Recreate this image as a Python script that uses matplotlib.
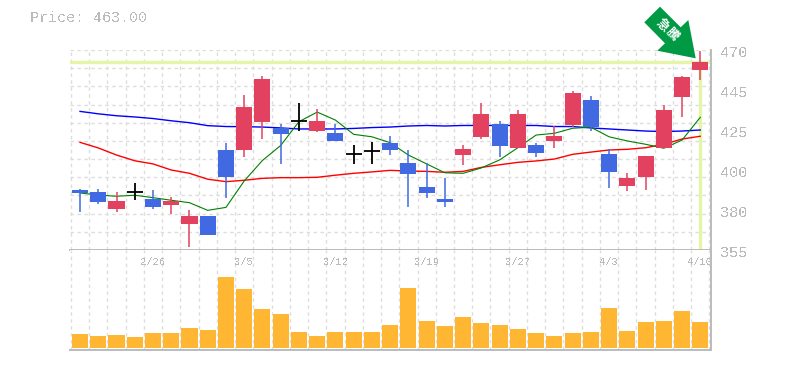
#!/usr/bin/env python
# candlestick chart with moving averages and volume panel

import matplotlib.pyplot as plt
import numpy as np
from matplotlib.patches import Polygon

opens = [389.5, 388.4, 378.6, 388.2, 384.3, 380.9, 369.9, 374.5, 412.5, 412.5, 428.6, 425.2,
         429.0, 423.4, 422.3, 410.0, 411.9, 416.5, 405.0, 391.2, 384.3, 409.6, 420.0, 427.5,
         413.7, 415.4, 417.7, 426.9, 441.3, 410.2, 391.8, 397.0, 413.7, 443.0, 458.5]
highs = [390.1, 390.1, 388.4, 393.5, 389.5, 385.5, 378.0, 374.5, 416.5, 444.1, 455.0, 427.5,
         439.5, 436.1, 427.5, 415.4, 417.1, 420.6, 412.5, 405.0, 396.4, 415.4, 439.5, 429.2,
         435.5, 416.5, 426.3, 446.4, 443.6, 413.1, 399.3, 409.0, 438.4, 455.0, 469.4]
lows = [376.9, 381.5, 376.9, 383.8, 378.6, 375.7, 356.7, 363.6, 384.9, 408.5, 418.8, 404.5,
        423.4, 422.9, 417.7, 404.5, 404.5, 409.6, 379.7, 384.9, 379.7, 403.9, 418.8, 408.5,
        413.7, 408.5, 413.7, 425.7, 423.4, 390.7, 388.9, 389.5, 413.7, 431.5, 452.8]
closes = [387.8, 382.6, 383.2, 388.2, 379.7, 383.2, 374.5, 363.6, 397.0, 437.2, 453.3, 421.7,
          429.0, 429.2, 417.7, 410.0, 411.9, 412.5, 398.7, 387.8, 382.6, 413.1, 433.2, 414.8,
          433.2, 410.8, 420.6, 445.3, 425.7, 399.9, 396.4, 409.0, 435.5, 454.5, 463.0]

ma_short = [387.8, 386.6, 385.9, 386.5, 385.1, 383.6, 382.2, 377.8, 379.5, 394.7, 406.5, 415.1,
            428.8, 434.3, 429.7, 421.5, 420.1, 416.7, 409.6, 404.5, 399.4, 399.1, 402.2, 406.8,
            413.8, 421.1, 422.1, 425.0, 425.6, 420.1, 417.7, 415.8, 413.5, 418.2, 431.3]
ma_mid = [416.9, 413.7, 409.6, 406.3, 404.5, 401.0, 399.1, 395.7, 394.3, 395.1, 396.2, 396.6,
          396.6, 396.8, 398.0, 399.1, 399.9, 400.8, 400.4, 400.2, 399.7, 400.2, 402.5, 404.0,
          405.4, 406.2, 407.3, 410.0, 411.3, 412.5, 412.9, 413.8, 415.8, 418.8, 420.4]
ma_long = [434.7, 433.3, 432.2, 431.5, 430.6, 429.3, 428.2, 426.5, 426.0, 425.9, 425.7, 425.2,
           424.6, 424.6, 424.6, 424.9, 425.4, 425.7, 426.3, 426.6, 426.3, 426.6, 426.6, 426.6,
           426.6, 426.6, 426.0, 426.0, 425.2, 424.6, 424.0, 423.4, 423.1, 423.4, 424.0]

volumes = [14, 12, 13, 11, 15, 15, 20, 18, 71, 59, 39, 34, 16, 12, 16, 16, 16, 23,
           60, 27, 22, 31, 25, 23, 19, 15, 12, 15, 16, 40, 17, 26, 27, 37, 26]

date_idx = [4, 9, 14, 19, 24, 29, 34]
date_labels = ["2/26", "3/5", "3/12", "3/19", "3/27", "4/3", "4/10"]
price_ticks = [470, 447, 424, 401, 378, 355]
price_labels = ["470", "445", "425", "400", "380", "355"]
current_price = 463.0

GREY = "#bbbbbb"
GRID = "#dddddd"
PALE = "#e4f5a8"
UP = "#e2425f"
DOWN = "#4169e1"
FONT = "Liberation Mono"

plt.rcParams["text.antialiased"] = False

fig = plt.figure(figsize=(7.85, 3.7), dpi=100)
ax = fig.add_axes([70 / 785, 120 / 370, 640.5 / 785, 200 / 370])
vol = fig.add_axes([70 / 785, 20 / 370, 640.5 / 785, 100 / 370], sharex=ax)

x = np.arange(len(closes))
ax.set_xlim(-0.55, 34.56)
ax.set_ylim(355, 470)
vol.set_ylim(-2, 98)

for a in (ax, vol):
    a.set_xticks(np.arange(-0.5, 35))
    a.tick_params(length=0, labelbottom=False, labelleft=False)
    a.grid(axis="x", color=GRID, lw=1, ls=(0, (2.5, 2.5)), zorder=0)
    a.set_axisbelow(True)
    a.spines["top"].set_visible(False)
    a.spines["left"].set_visible(False)
    a.spines["right"].set_color(GREY)
    a.spines["right"].set_linewidth(1.4)
    a.spines["bottom"].set_color(GREY)
    a.spines["bottom"].set_linewidth(1.4)

ax.set_yticks(np.linspace(355, 470, 12))
ax.grid(axis="y", color=GRID, lw=1, ls=(0, (2.5, 2.5)), zorder=0)
vol.set_yticks([])

# current price guide
ax.axhline(current_price, color=PALE, lw=2.4, zorder=1)
ax.plot([x[-1], x[-1]], [current_price, 356], color=PALE, lw=2.4, zorder=1)

ax.plot(x, ma_long, color="#0000ff", lw=1.0, zorder=2)
ax.plot(x, ma_mid, color="#ff0000", lw=1.0, zorder=2)
ax.plot(x, ma_short, color="#008000", lw=0.8, zorder=2)

# candles
for i in x:
    o, h, l, c = opens[i], highs[i], lows[i], closes[i]
    if o == c:
        ax.vlines(i, l, h, color="black", lw=1.3, zorder=4)
        ax.hlines(c, i - 0.44, i + 0.44, color="black", lw=1.3, zorder=4)
    else:
        col = UP if c > o else DOWN
        ax.vlines(i, l, h, color=col, lw=1.1, zorder=3)
        ax.bar(i, abs(c - o), bottom=min(o, c), width=0.88, color=col, zorder=3)

vol.bar(x, volumes, width=0.88, color="#ffb733", zorder=3)

for p, s in zip(price_ticks, price_labels):
    ax.annotate(s, xy=(1, p), xycoords=("axes fraction", "data"), xytext=(7, -2.3),
                textcoords="offset points", ha="left", va="center",
                fontsize=11, color=GREY, family=FONT, annotation_clip=False)

for i, s in zip(date_idx, date_labels):
    vol.annotate(s, xy=(i, 1), xycoords=("data", "axes fraction"), xytext=(0, -8.5),
                 textcoords="offset points", ha="center", va="center",
                 fontsize=7.5, color=GREY, family=FONT, annotation_clip=False)

fig.text(30 / 785, 1 - 18 / 370, "Price: 463.00", fontsize=10.8, color=GREY,
         family=FONT, ha="left", va="center")

# arrow badge, figure pixel coordinates
arrow_px = [(644.3, 22.3), (660, 6.7), (680.7, 27.3), (688.3, 20), (695.7, 58.3),
            (657.3, 50.7), (665, 43.3)]
arrow_fig = [(px / 785, 1 - py / 370) for px, py in arrow_px]
fig.add_artist(Polygon(arrow_fig, closed=True, transform=fig.transFigure,
                       facecolor="#009944", edgecolor="none", zorder=5))
plt.rcParams["text.antialiased"] = True
fig.text(662 / 785, 1 - 25 / 370, "急", color="white", fontsize=9, fontweight="bold",
         family="Noto Sans CJK JP", rotation=-45, ha="center", va="center", zorder=6)
fig.text(672.7 / 785, 1 - 34.5 / 370, "騰", color="white", fontsize=9, fontweight="bold",
         family="Noto Sans CJK JP", rotation=-45, ha="center", va="center", zorder=6)

plt.savefig("out.png", dpi=100)
plt.close(fig)
